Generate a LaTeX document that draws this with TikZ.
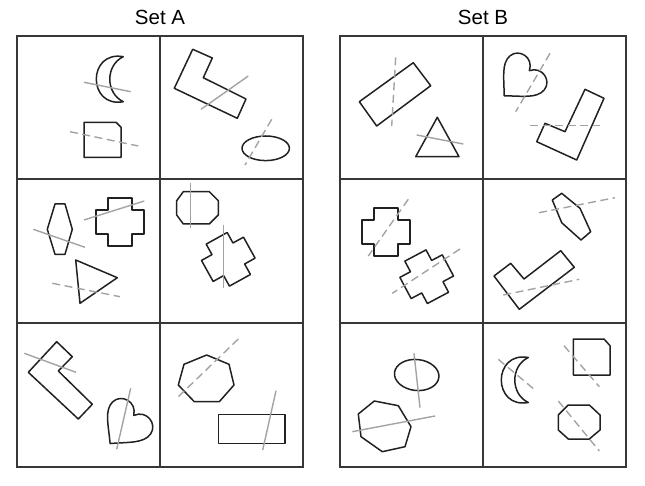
\documentclass[tikz,border=0pt]{standalone}
\usepackage{fontspec}
\setmainfont{Liberation Sans}
\definecolor{ink}{gray}{0.13}
\definecolor{cut}{gray}{0.64}
\tikzset{
  frame/.style={draw=ink!90, line width=2pt},
  shp/.style={draw=ink, line width=1.5pt, line join=round},
  solidcut/.style={draw=cut, line width=1.4pt},
  dashcut/.style={draw=cut, line width=1.4pt, dash pattern=on 8pt off 4.5pt},
  title/.style={font=\fontsize{20.5}{24}\selectfont},
  plus/.pic={\draw[shp] (-12,-24) -- (12,-24) -- (12,-12) -- (24,-12) -- (24,12) -- (12,12) -- (12,24) -- (-12,24) -- (-12,12) -- (-24,12) -- (-24,-12) -- (-12,-12) -- cycle;},
  heart/.pic={\draw[shp] (0,20) .. controls (12,8) and (24,0) .. (23,-11) .. controls (22,-22) and (6,-26) .. (0,-14) .. controls (-6,-26) and (-22,-22) .. (-23,-11) .. controls (-24,0) and (-12,8) .. (0,20) -- cycle;},
  crescent/.pic={\draw[shp] (0,-22.5) .. controls (-36,-29) and (-36,29) .. (0,22.5) .. controls (-18,14) and (-18,-14) .. (0,-22.5) -- cycle;},
}
\begin{document}
\begin{tikzpicture}[x=1pt,y=-1pt]
\useasboundingbox (0,0) rectangle (645,486);
\node[title] (setA) at (160,17) {Set A};
\node[title] (setB) at (483,17) {Set B};
\foreach \ox in {17,340} {
  \draw[frame] (\ox,36) rectangle (\ox+286,467);
  \draw[frame] (\ox+143,36) -- (\ox+143,467);
  \draw[frame] (\ox,179) -- (\ox+286,179);
  \draw[frame] (\ox,323) -- (\ox+286,323);
}
% Set A
\pic at (123.3,79.2) {crescent};
\draw[solidcut] (84,82.3) -- (130.7,91.7);
\draw[shp] (84,122.3) -- (116,122.3) -- (121,127.3) -- (121,157.3) -- (84,157.3) -- cycle;
\draw[dashcut] (70,131.7) -- (138.3,146);
\draw[shp] (192.7,49.3) -- (212.3,58) -- (203.3,77.7) -- (246,99) -- (237.3,118.3) -- (174.3,88.3) -- cycle;
\draw[solidcut] (201,109.3) -- (248.3,76);
\draw[shp] (265.7,148.3) ellipse [x radius=23.7pt, y radius=12.3pt];
\draw[dashcut] (271.7,119.3) -- (245,165);
\draw[shp] (55,204) -- (65,204) -- (72.3,229.3) -- (65,254.3) -- (55,254.3) -- (47.3,229.3) -- cycle;
\draw[solidcut] (33.3,229.3) -- (85,247.3);
\pic at (120.2,222.2) {plus};
\draw[solidcut] (84,220) -- (144.3,201);
\draw[shp] (75.7,260) -- (117.3,277.7) -- (80,303.3) -- cycle;
\draw[dashcut] (52.3,283.3) -- (120,296.7);
\draw[shp] (183.3,191.7) -- (209.3,191.7) -- (218.3,200.7) -- (218.3,215) -- (209.3,224) -- (183.3,224) -- (176.7,215) -- (176.7,200.7) -- cycle;
\draw[solidcut] (190.7,182.7) -- (190.7,228.3);
\pic[rotate=29] at (228.3,259.3) {plus};
\draw[solidcut] (223.3,225) -- (223.3,288.3);
\draw[shp] (56.7,341.7) -- (72.3,356.7) -- (58.3,371) -- (92.3,404.3) -- (78.3,419) -- (28.3,372.3) -- cycle;
\draw[solidcut] (24.3,353.3) -- (76,372.3);
\pic[rotate=-40, scale=1.08] at (124,427) {heart};
\draw[solidcut] (130.7,388.3) -- (116.7,449.3);
\draw[shp] (206.7,355) -- (229,364.3) -- (234,385) -- (219.3,401.7) -- (194.3,401.7) -- (178.3,385) -- (184,364.3) -- cycle;
\draw[dashcut] (238.3,339) -- (178.3,396.7);
\draw[shp] (218.3,414.3) rectangle (285,443.3);
\draw[solidcut] (276,390.7) -- (262.7,450);
% Set B
\draw[shp] (413.3,62.7) -- (430.7,85.7) -- (376.7,126) -- (359.3,101.7) -- cycle;
\draw[dashcut] (395.7,57.3) -- (391.7,126);
\draw[shp] (437.3,117.3) -- (459,156.7) -- (415.7,156.7) -- cycle;
\draw[solidcut] (416.7,135) -- (463.3,144);
\pic[rotate=-45, scale=1.05] at (519,81) {heart};
\draw[dashcut] (550,53.3) -- (515.7,111.7);
\draw[shp] (585,89.3) -- (604,98.3) -- (576.7,160) -- (536.7,141.7) -- (545,123.3) -- (565,131.7) -- cycle;
\draw[dashcut] (530,125.7) -- (600,125.7);
\pic at (386.2,232.2) {plus};
\draw[dashcut] (408.3,199.3) -- (368.3,256);
\pic[rotate=28] at (426.7,276.7) {plus};
\draw[dashcut] (460,249) -- (392.3,293.3);
\draw[shp] (561.7,193.3) -- (580,208.3) -- (590.7,231.7) -- (581,240) -- (561.7,222.7) -- (552.3,200) -- cycle;
\draw[dashcut] (539,212.7) -- (615,197.7);
\draw[shp] (560.7,250.7) -- (574.3,267.3) -- (519.3,309.3) -- (494,276) -- (510.7,263.3) -- (524,279) -- cycle;
\draw[dashcut] (503.3,295) -- (579.3,279.3);
\draw[shp, rotate around={-6:(416.7,375)}] (416.7,375) ellipse [x radius=22.3pt, y radius=15.5pt];
\draw[solidcut] (414,353.3) -- (420,407.7);
\draw[shp] (374.3,401) -- (398.3,405.7) -- (411,426.7) -- (405,446.7) -- (382.3,451.7) -- (361,436.7) -- (358.3,414) -- cycle;
\draw[solidcut] (352.3,431.7) -- (435,416);
\pic at (528.3,380) {crescent};
\draw[dashcut] (498.3,359.3) -- (535,390);
\draw[shp] (573.3,339) -- (604,339) -- (610,345.7) -- (610,375) -- (573.3,375) -- cycle;
\draw[dashcut] (564,345.7) -- (599.3,386.7);
\draw[shp] (568.3,405) -- (589.3,405) -- (600,415) -- (600,430) -- (589.3,439) -- (568.3,439) -- (558.3,430) -- (558.3,415) -- cycle;
\draw[dashcut] (558.3,401) -- (599.3,451);
\end{tikzpicture}
\end{document}
